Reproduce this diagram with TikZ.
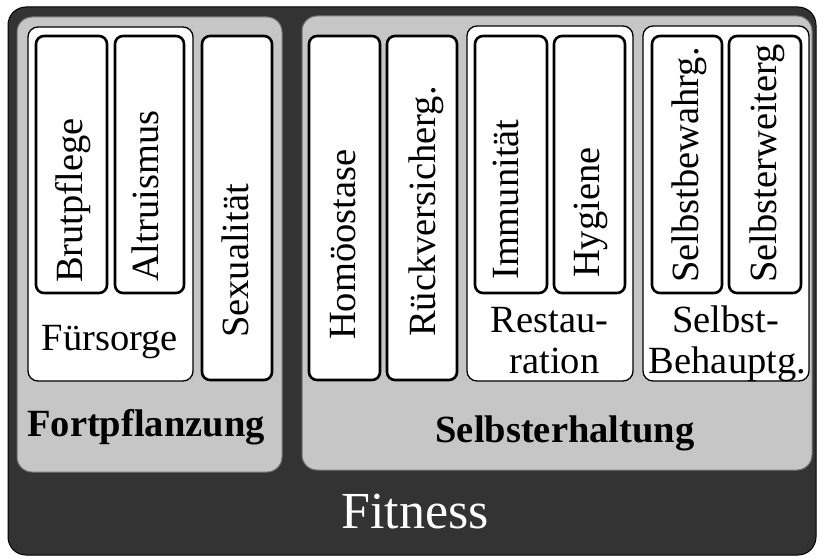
\documentclass[tikz,border=0pt]{standalone}
\usepackage{fontspec}
\setmainfont{Liberation Serif}
\definecolor{darkbg}{HTML}{333333}
\definecolor{midgray}{HTML}{C6C6C6}
\tikzset{
  outerbox/.style={fill=darkbg, draw=black, line width=1pt, rounded corners=18pt},
  groupbox/.style={fill=midgray, draw=black!55, line width=1pt, rounded corners=15pt},
  subbox/.style={fill=white, draw=black, line width=1.3pt, rounded corners=10pt},
  itembox/.style={fill=white, draw=black, line width=2.6pt, rounded corners=8pt},
  vtext/.style={inner sep=0pt, anchor=base west, rotate=90, font=\fontsize{38.5}{41}\selectfont},
  htext/.style={inner sep=0pt, anchor=base, font=\fontsize{38.5}{41}\selectfont},
  btext/.style={inner sep=0pt, anchor=base, font=\fontsize{38.5}{41}\selectfont\bfseries},
}
\begin{document}
\begin{tikzpicture}[x=1pt, y=-1pt]
\useasboundingbox (0,0) rectangle (817,559);
\fill[white] (0,0) rectangle (817,559);
% outer
\path[outerbox] (8,7) rectangle (816,555);
% group boxes
\path[groupbox] (17,17) rectangle (282,472);
\path[groupbox] (302,16) rectangle (812,470);
% sub boxes
\path[subbox] (28,27) rectangle (193,381);
\path[subbox] (467,26) rectangle (633,381);
\path[subbox] (643,26) rectangle (809,381);
% item boxes
\path[itembox] (36,36) rectangle (107,293);
\path[itembox] (115,36) rectangle (184,293);
\path[itembox] (202,36) rectangle (272,380);
\path[itembox] (309,36) rectangle (380,380);
\path[itembox] (387,36) rectangle (457,380);
\path[itembox] (475,36) rectangle (547,293);
\path[itembox] (554,36) rectangle (625,293);
\path[itembox] (652,36) rectangle (722,293);
\path[itembox] (729,36) rectangle (801,293);
% vertical texts
\node[vtext] (brut) at (82,283) {Brutpflege};
\node[vtext] (altr) at (158,282) {Altruismus};
\node[vtext] (sexu) at (248,338) {Sexualität};
\node[vtext] (homo) at (355,340) {Homöostase};
\node[vtext] (rueck) at (435,337) {Rückversicherg.};
\node[vtext] (immu) at (518,280) {Immunität};
\node[vtext] (hyg) at (599,278) {Hygiene};
\node[vtext] (sbew) at (698,283) {Selbstbewahrg.};
\node[vtext] (serw) at (776,283) {Selbsterweiterg};
% horizontal texts
\node[htext] (fuer) at (110,350) {Fürsorge};
\node[htext] (rest1) at (549.5,332) {Restau-};
\node[htext] (rest2) at (554.5,373) {ration};
\node[htext] (sb1) at (725.5,332) {Selbst-};
\node[htext] (sb2) at (727.5,373) {Behauptg.};
\node[btext] (fort) at (146,436) {Fortpflanzung};
\node[btext] (selb) at (565,442) {Selbsterhaltung};
\node[inner sep=0pt, anchor=base, text=white, font=\fontsize{52}{56}\selectfont] (fit) at (415,528) {Fitness};
\end{tikzpicture}
\end{document}
